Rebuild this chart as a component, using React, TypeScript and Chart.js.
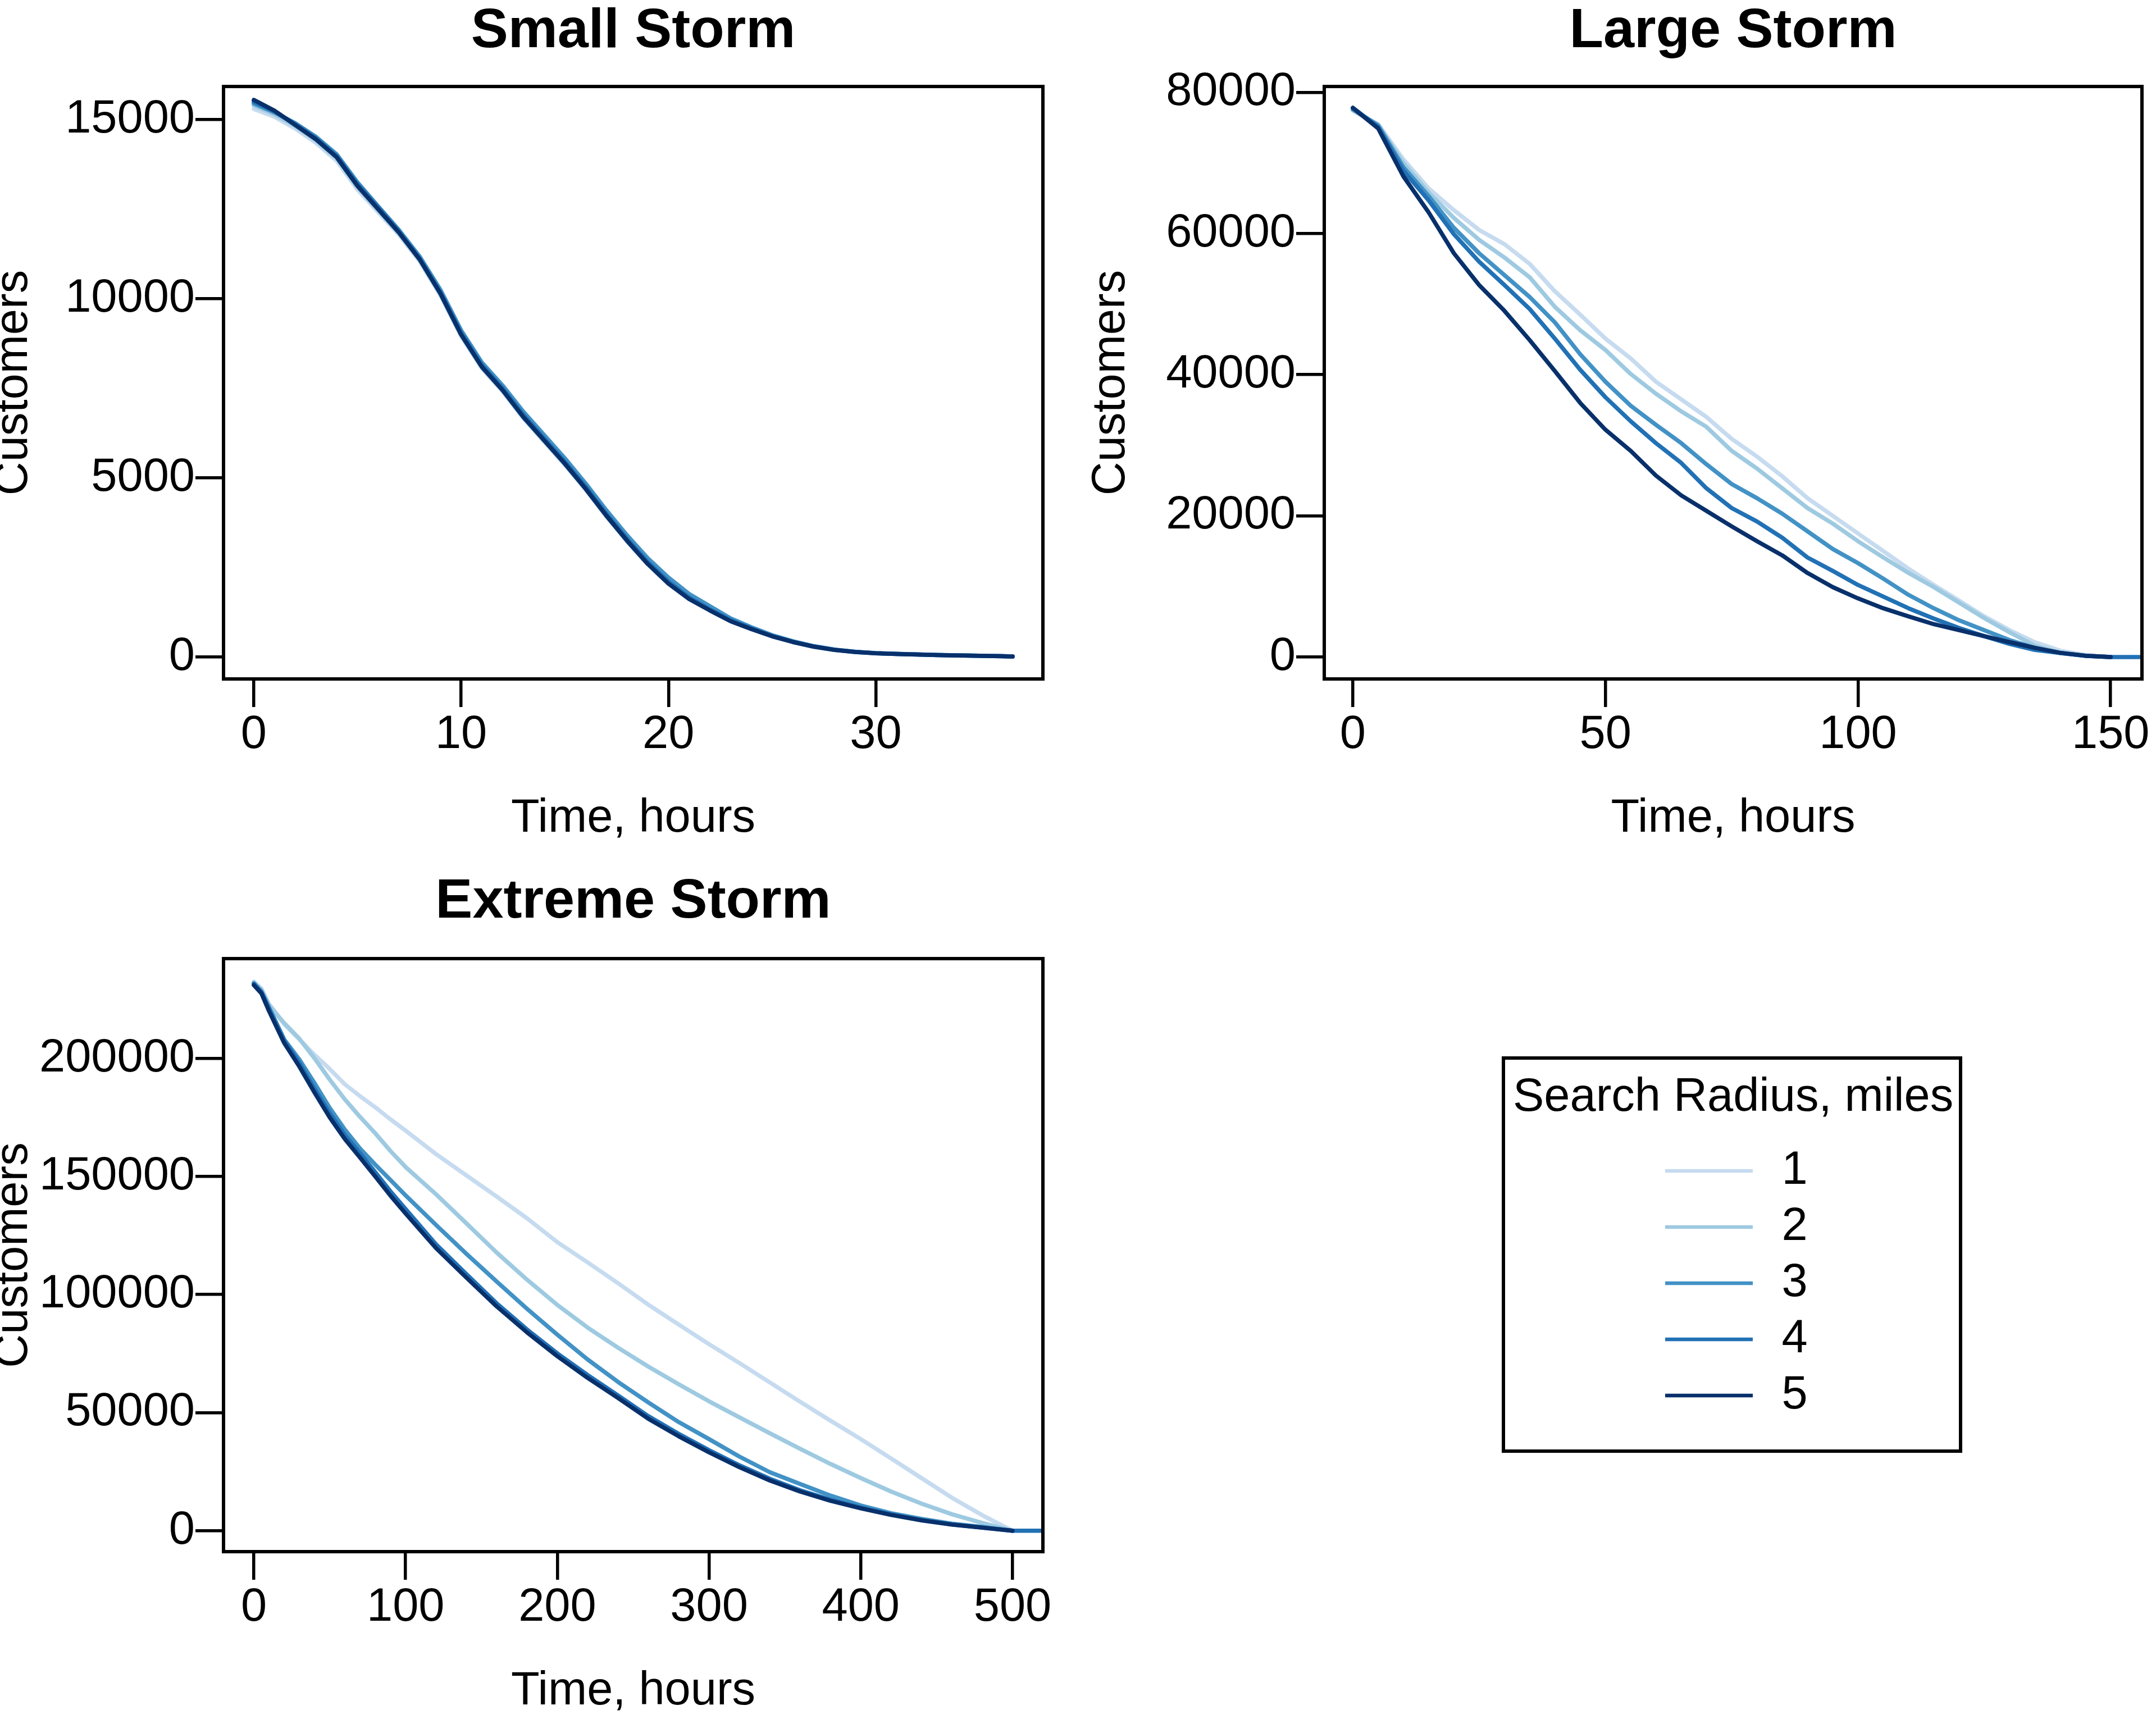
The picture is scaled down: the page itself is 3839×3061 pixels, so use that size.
import { useEffect, useRef } from "react";
import { Chart, registerables } from "chart.js";

Chart.register(...registerables);

const FONT = "'Liberation Sans', Arial, Helvetica, sans-serif";
Chart.defaults.font.family = FONT;
Chart.defaults.color = "#000";

// Search radius in miles, one run per radius
const radii = ["1", "2", "3", "4", "5"];
const radiusColors = ["#c6dbef", "#9ecae1", "#4292c6", "#2171b5", "#08306b"];

// Small storm, customers without power by hour
const smallHours = [
  0, 1, 2, 3, 4, 5, 6, 7, 8, 9, 10, 11, 12, 13, 14, 15, 16, 17, 18, 19, 20,
  21, 22, 23, 24, 25, 26, 27, 28, 29, 30, 31, 32, 33, 34, 35, 36, 36.6,
];
const smallR1 = [
  15300, 15080, 14750, 14350, 13850, 13050, 12420, 11790, 11050, 10100, 8960,
  8060, 7420, 6670, 6020, 5370, 4680, 3930, 3230, 2590, 2050, 1620, 1300, 1000,
  780, 580, 420, 290, 200, 140, 105, 85, 70, 55, 45, 35, 25, 15,
];
const smallR2 = [
  15400, 15150, 14820, 14420, 13920, 13120, 12470, 11830, 11080, 10120, 8980,
  8080, 7430, 6680, 6030, 5380, 4690, 3940, 3240, 2600, 2060, 1630, 1310, 1010,
  790, 585, 425, 295, 202, 142, 106, 86, 71, 56, 45, 35, 25, 15,
];
const smallR3 = [
  15450, 15200, 14900, 14520, 14030, 13250, 12580, 11920, 11180, 10250, 9120,
  8220, 7580, 6850, 6200, 5550, 4850, 4100, 3400, 2760, 2220, 1760, 1420, 1080,
  830, 610, 440, 305, 210, 148, 110, 90, 74, 58, 47, 37, 27, 17,
];
const smallR4 = [
  15500, 15230, 14870, 14480, 13980, 13200, 12550, 11880, 11120, 10180, 9050,
  8150, 7500, 6760, 6100, 5450, 4760, 4000, 3300, 2650, 2100, 1660, 1330, 1030,
  800, 590, 430, 300, 205, 145, 108, 88, 72, 57, 46, 36, 26, 16,
];
const smallR5 = [
  15550, 15250, 14850, 14450, 13950, 13150, 12500, 11850, 11100, 10150, 9000,
  8100, 7450, 6700, 6050, 5400, 4700, 3950, 3250, 2600, 2050, 1620, 1300, 1000,
  780, 580, 420, 290, 200, 140, 105, 85, 70, 55, 45, 35, 25, 15,
];
const smallXTicks = [0, 10, 20, 30];
const smallYTicks = [0, 5000, 10000, 15000];

// Large storm
const largeHours = [
  0, 5, 10, 15, 20, 25, 30, 35, 40, 45, 50, 55, 60, 65, 70, 75, 80, 85, 90,
  95, 100, 105, 110, 115, 120, 125, 130, 135, 140, 145, 150, 160,
];
const largeR1 = [
  77400, 75500, 70500, 66400, 63300, 60500, 58500, 55700, 51800, 48500, 45100,
  42300, 39000, 36500, 34000, 30900, 28400, 25600, 22500, 20000, 17500, 15000,
  12500, 10200, 8000, 5750, 3800, 2100, 900, 280, 0, null,
];
const largeR2 = [
  77500, 75400, 70000, 65800, 62200, 59100, 56600, 53800, 49600, 46300, 43500,
  40100, 37300, 34800, 32600, 29200, 26700, 23900, 21100, 18900, 16400, 14100,
  11900, 9900, 7700, 5500, 3500, 1600, 610, 170, 0, null,
];
const largeR3 = [
  77600, 75300, 69400, 65300, 60800, 57200, 54100, 51000, 47400, 42900, 39000,
  35600, 32900, 30300, 27300, 24500, 22500, 20300, 17800, 15300, 13300, 11100,
  8800, 6900, 5200, 3800, 2400, 1300, 560, 170, 0, null,
];
const largeR4 = [
  77800, 75100, 68900, 64700, 59900, 56000, 52700, 49300, 45100, 40700, 36800,
  33400, 30300, 27500, 23900, 21100, 19200, 16900, 14100, 12200, 10200, 8550,
  6900, 5450, 4100, 2950, 1850, 1000, 560, 170, 0, 0,
];
const largeR5 = [
  77800, 74900, 68100, 63000, 57200, 52700, 49050, 44900, 40500, 36000, 32200,
  29200, 25700, 22900, 20700, 18500, 16400, 14400, 11900, 9900, 8300, 6900,
  5750, 4650, 3800, 2950, 2100, 1300, 600, 180, 0, null,
];
const largeXTicks = [0, 50, 100, 150];
const largeYTicks = [0, 20000, 40000, 60000, 80000];

// Extreme storm
const extremeHours = [
  0, 5, 10, 20, 30, 40, 50, 60, 70, 80, 90, 100, 120, 140, 160, 180, 200, 220,
  240, 260, 280, 300, 320, 340, 360, 380, 400, 420, 440, 460, 480, 500, 530,
];
const extremeR1 = [
  232500, 229500, 223000, 214500, 208000, 201500, 195500, 189000, 184000,
  179300, 174200, 169400, 159500, 150500, 141500, 132300, 122200, 113600,
  104800, 95700, 87300, 79000, 71000, 62800, 54600, 46600, 38800, 30600, 22300,
  14000, 6600, 0, null,
];
const extremeR2 = [
  232000, 229000, 222500, 214900, 208300, 200000, 191000, 182600, 175200,
  168300, 160800, 154000, 142500, 130200, 117800, 106300, 95600, 86000, 77500,
  69500, 62000, 54800, 48000, 41300, 34700, 28300, 22300, 16600, 11500, 7000,
  3300, 0, null,
];
const extremeR3 = [
  231800, 228300, 221500, 208000, 199500, 189500, 179000, 169800, 161800,
  155000, 148500, 142000, 129500, 117300, 105500, 94000, 83000, 72500, 63000,
  54300, 46000, 38800, 31400, 24800, 19800, 14900, 10700, 7400, 5000, 3000,
  1600, 0, null,
];
const extremeR4 = [
  231500, 228000, 221000, 207500, 198000, 187000, 176800, 167500, 159800,
  151800, 143700, 136200, 121300, 108700, 96300, 85200, 75100, 65900, 57300,
  48500, 41000, 34100, 27700, 22000, 17100, 13100, 9800, 6900, 4500, 2700,
  1350, 0, 0,
];
const extremeR5 = [
  231000, 227500, 220000, 206500, 196500, 185500, 175000, 165800, 158000,
  150000, 141900, 134300, 119700, 107200, 95000, 84000, 73900, 64700, 56200,
  47400, 40000, 33200, 26900, 21300, 16600, 12700, 9500, 6700, 4400, 2600,
  1300, 0, null,
];
const extremeXTicks = [0, 100, 200, 300, 400, 500];
const extremeYTicks = [0, 50000, 100000, 150000, 200000];

const TITLE_SIZE = 99;
const LABEL_SIZE = 83;
const TICK_LEN = 50;

// black box round the plot region, like R's box()
const plotFrame = {
  id: "plotFrame",
  afterDatasetsDraw(chart: any) {
    const { ctx, chartArea: a } = chart;
    ctx.save();
    ctx.strokeStyle = "#000";
    ctx.lineWidth = 6;
    ctx.strokeRect(a.left, a.top, a.right - a.left, a.bottom - a.top);
    ctx.restore();
  },
};

type Rect = { left: number; top: number; width: number; height: number };
type Area = { left: number; top: number; right: number; bottom: number };

type PanelProps = {
  title: string;
  hours: number[];
  series: (number | null)[][];
  xTicks: number[];
  yTicks: number[];
  xMin: number;
  xMax: number;
  yMin: number;
  yMax: number;
  frame: Rect; // canvas position on the page
  area: Area; // plot region on the page
  titleY: number;
  yTitleX: number;
  xTitleY: number;
};

function StormPanel(p: PanelProps) {
  const chartRef = useRef<HTMLCanvasElement>(null);

  useEffect(() => {
    if (!chartRef.current) return;
    const { frame, area } = p;
    const titleLine = TITLE_SIZE * 1.15;
    const titleTop = p.titleY - frame.top - titleLine / 2;
    const labelHalf = (LABEL_SIZE * 1.2) / 2;
    const grid = {
      display: true,
      drawOnChartArea: false,
      drawTicks: true,
      tickLength: TICK_LEN,
      color: "#000",
      tickColor: "#000",
      lineWidth: 5.5,
      tickWidth: 5.5,
    };
    const tickFont = { family: FONT, size: LABEL_SIZE };

    const chart = new Chart(chartRef.current, {
      type: "line",
      data: {
        datasets: p.series
          .map((values, i) => ({
            label: radii[i],
            data: p.hours.map((h, j) => ({ x: h, y: values[j] })),
            borderColor: radiusColors[i],
            backgroundColor: radiusColors[i],
            borderWidth: 7.5,
            borderCapStyle: "round" as const,
            borderJoinStyle: "round" as const,
            pointRadius: 0,
            tension: 0,
          }))
          .reverse(), // radius 5 drawn last, on top
      },
      options: {
        animation: false,
        responsive: false,
        events: [],
        layout: {
          padding: {
            left: 0,
            top: 0,
            right: frame.left + frame.width - area.right,
            bottom: 0,
          },
        },
        plugins: {
          legend: { display: false },
          tooltip: { enabled: false },
          title: {
            display: true,
            text: p.title,
            color: "#000",
            fullSize: false,
            font: { family: FONT, size: TITLE_SIZE, weight: "bold", lineHeight: 1.15 },
            padding: {
              top: titleTop,
              bottom: area.top - frame.top - titleLine - titleTop,
            },
          },
        },
        scales: {
          x: {
            type: "linear",
            min: p.xMin,
            max: p.xMax,
            afterBuildTicks: (axis: any) => {
              axis.ticks = p.xTicks.map((value) => ({ value }));
            },
            afterFit: (axis: any) => {
              axis.height = frame.top + frame.height - area.bottom;
            },
            grid,
            border: { display: false },
            ticks: {
              color: "#000",
              font: tickFont,
              padding: 0,
              autoSkip: false,
              maxRotation: 0,
              minRotation: 0,
              callback: (v: any) => String(v),
            },
            title: {
              display: true,
              text: "Time, hours",
              color: "#000",
              font: { family: FONT, size: LABEL_SIZE, lineHeight: 1.2 },
              padding: {
                top: 0,
                bottom: frame.top + frame.height - p.xTitleY - labelHalf,
              },
            },
          },
          y: {
            type: "linear",
            min: p.yMin,
            max: p.yMax,
            afterBuildTicks: (axis: any) => {
              axis.ticks = p.yTicks.map((value) => ({ value }));
            },
            afterFit: (axis: any) => {
              axis.width = area.left - frame.left;
            },
            grid,
            border: { display: false },
            ticks: {
              color: "#000",
              font: tickFont,
              padding: 1,
              autoSkip: false,
              callback: (v: any) => String(v),
            },
            title: {
              display: true,
              text: "Customers",
              color: "#000",
              font: { family: FONT, size: LABEL_SIZE, lineHeight: 1.2 },
              padding: { top: p.yTitleX - frame.left - labelHalf, bottom: 0 },
            },
          },
        },
      },
      plugins: [plotFrame],
    } as any);

    return () => {
      chart.destroy();
    };
  }, []);

  return (
    <canvas
      ref={chartRef}
      width={p.frame.width}
      height={p.frame.height}
      style={{ position: "absolute", left: p.frame.left, top: p.frame.top }}
    />
  );
}

// box round the legend
const legendFrame = {
  id: "legendFrame",
  afterDraw(chart: any) {
    const { ctx } = chart;
    ctx.save();
    ctx.strokeStyle = "#000";
    ctx.lineWidth = 6;
    ctx.strokeRect(3, 3, 814, 700);
    ctx.restore();
  },
};

function RadiusLegend() {
  const chartRef = useRef<HTMLCanvasElement>(null);

  useEffect(() => {
    if (!chartRef.current) return;
    const chart = new Chart(chartRef.current, {
      type: "line",
      data: {
        datasets: radii.map((r, i) => ({
          label: r,
          data: [],
          borderColor: radiusColors[i],
          backgroundColor: radiusColors[i],
          pointBorderColor: radiusColors[i],
          borderWidth: 6.5,
          pointBorderWidth: 6.5,
        })),
      },
      options: {
        animation: false,
        responsive: false,
        events: [],
        layout: { padding: { left: 20, top: 10, right: 0, bottom: 0 } },
        scales: {
          x: { display: false },
          // hidden spacer that pushes the legend entries to the right
          y: {
            display: false,
            weight: 2000,
            afterFit: (axis: any) => {
              axis.width = 254;
            },
          },
        },
        plugins: {
          tooltip: { enabled: false },
          title: {
            display: true,
            text: "Search Radius, miles",
            align: "start",
            color: "#000",
            font: { family: FONT, size: LABEL_SIZE, weight: "normal", lineHeight: 1.2 },
            padding: { top: 14.2, bottom: 21.7 },
          },
          legend: {
            position: "left",
            align: "start",
            fullSize: false,
            labels: {
              usePointStyle: true,
              pointStyle: "line",
              pointStyleWidth: 156,
              padding: 17,
              color: "#000",
              textAlign: "right",
              font: { family: FONT, size: LABEL_SIZE },
            },
          },
        },
      },
      plugins: [legendFrame],
    } as any);

    return () => {
      chart.destroy();
    };
  }, []);

  return (
    <canvas
      ref={chartRef}
      width={1165}
      height={706}
      style={{ position: "absolute", left: 2674, top: 1881 }}
    />
  );
}

export default function App() {
  return (
    <div
      style={{
        position: "absolute",
        left: 0,
        top: 0,
        width: 3839,
        height: 3061,
        background: "#fff",
        overflow: "hidden",
      }}
    >
      <StormPanel
        title="Small Storm"
        hours={smallHours}
        series={[smallR1, smallR2, smallR3, smallR4, smallR5]}
        xTicks={smallXTicks}
        yTicks={smallYTicks}
        xMin={-1.46}
        xMax={38.06}
        yMin={-611}
        yMax={15925}
        frame={{ left: 0, top: 0, width: 1920, height: 1530 }}
        area={{ left: 398, top: 154, right: 1857, bottom: 1209 }}
        titleY={57}
        yTitleX={25}
        xTitleY={1458}
      />
      <StormPanel
        title="Large Storm"
        hours={largeHours}
        series={[largeR1, largeR2, largeR3, largeR4, largeR5]}
        xTicks={largeXTicks}
        yTicks={largeYTicks}
        xMin={-5.66}
        xMax={156.2}
        yMin={-3110}
        yMax={80830}
        frame={{ left: 1920, top: 0, width: 1919, height: 1530 }}
        area={{ left: 2358, top: 154, right: 3814, bottom: 1209 }}
        titleY={57}
        yTitleX={1979}
        xTitleY={1458}
      />
      <StormPanel
        title="Extreme Storm"
        hours={extremeHours}
        series={[extremeR1, extremeR2, extremeR3, extremeR4, extremeR5]}
        xTicks={extremeXTicks}
        yTicks={extremeYTicks}
        xMin={-20}
        xMax={520}
        yMin={-8845}
        yMax={242230}
        frame={{ left: 0, top: 1530, width: 1920, height: 1531 }}
        area={{ left: 398, top: 1707, right: 1857, bottom: 2763 }}
        titleY={1607}
        yTitleX={25}
        xTitleY={3012}
      />
      <RadiusLegend />
    </div>
  );
}
